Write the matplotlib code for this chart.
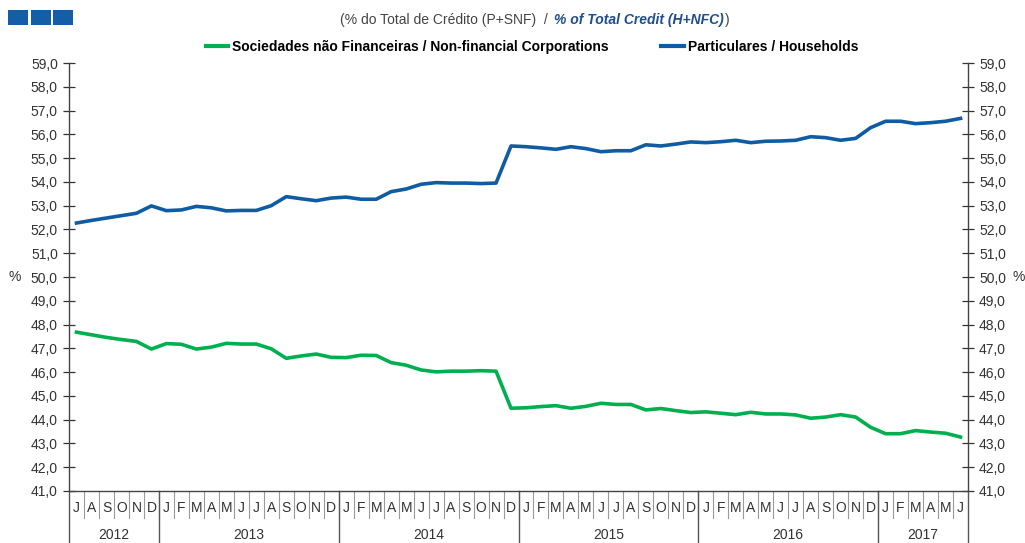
import numpy as np
import matplotlib
matplotlib.use("Agg")
import matplotlib.pyplot as plt
from matplotlib.patches import Rectangle

# ---------------- data ----------------
month_letters = ["J", "A", "S", "O", "N", "D"] + \
    ["J", "F", "M", "A", "M", "J", "J", "A", "S", "O", "N", "D"] * 4 + \
    ["J", "F", "M", "A", "M", "J"]
years = ["2012", "2013", "2014", "2015", "2016", "2017"]
months_per_year = [6, 12, 12, 12, 12, 6]

households = [
    52.27, 52.38, 52.48, 52.58, 52.68, 52.99,                       # 2012 J-D
    52.79, 52.82, 52.97, 52.91, 52.78, 52.80, 52.80, 53.00, 53.38, 53.29, 53.21, 53.32,  # 2013
    53.36, 53.27, 53.27, 53.59, 53.70, 53.90, 53.97, 53.95, 53.95, 53.93, 53.95, 55.51,  # 2014
    55.48, 55.43, 55.37, 55.48, 55.40, 55.27, 55.31, 55.31, 55.56, 55.51, 55.59, 55.68,  # 2015
    55.65, 55.69, 55.75, 55.65, 55.71, 55.72, 55.75, 55.90, 55.86, 55.75, 55.83, 56.28,  # 2016
    56.55, 56.55, 56.45, 56.49, 56.55, 56.67,                       # 2017
]
nfc = [
    47.68, 47.57, 47.46, 47.37, 47.29, 46.97,
    47.20, 47.17, 46.97, 47.05, 47.21, 47.18, 47.18, 46.98, 46.58, 46.68, 46.76, 46.62,
    46.61, 46.71, 46.70, 46.40, 46.29, 46.09, 46.01, 46.04, 46.04, 46.06, 46.04, 44.48,
    44.50, 44.55, 44.59, 44.48, 44.56, 44.69, 44.64, 44.64, 44.41, 44.47, 44.38, 44.30,
    44.33, 44.27, 44.21, 44.31, 44.24, 44.24, 44.20, 44.06, 44.11, 44.21, 44.11, 43.68,
    43.41, 43.41, 43.54, 43.48, 43.43, 43.27,
]
y_ticks = np.arange(41.0, 59.01, 1.0)

label_nfc = "Sociedades não Financeiras / Non-financial Corporations"
label_hh = "Particulares / Households"
title_pt = "(% do Total de Crédito (P+SNF)  / "
title_en = "% of Total Credit (H+NFC)"

GREEN = "#00B050"
BLUE = "#0F5CA3"

plt.rcParams["font.family"] = ["Liberation Sans", "DejaVu Sans"]

W, H = 1025, 543
fig = plt.figure(figsize=(W / 100, H / 100), dpi=100)
x0, x1, ytop, ybot = 69, 968, 63, 491
ax = fig.add_axes([x0 / W, 1 - ybot / H, (x1 - x0) / W, (ybot - ytop) / H])

x = np.arange(len(month_letters))
ax.plot(x, nfc, color=GREEN, lw=2.6, solid_joinstyle="round", label=label_nfc)
ax.plot(x, households, color=BLUE, lw=2.6, solid_joinstyle="round", label=label_hh)

ax.set_xlim(-0.5, len(month_letters) - 0.5)
ax.set_ylim(41, 59)
ax.set_yticks(y_ticks)
ax.set_yticklabels([f"{v:.1f}".replace(".", ",") for v in y_ticks])
ax.tick_params(axis="y", which="both", direction="inout", length=8, width=0.9,
               colors="#333333", labelcolor="#333333", labelsize=10,
               left=True, right=True, labelleft=True, labelright=True, pad=4)
ax.set_xticks([])
ax.spines["top"].set_visible(False)
for s in ["left", "right", "bottom"]:
    ax.spines[s].set_color("#444444")
    ax.spines[s].set_linewidth(1.0)

# month labels and separators
trans = ax.get_xaxis_transform()
axh = ybot - ytop
for i, m in enumerate(month_letters):
    ax.text(i, -17 / axh, m, transform=trans, ha="center", va="center",
            fontsize=10, color="#333333")
for i in range(len(month_letters) - 1):
    ax.plot([i + 0.5, i + 0.5], [0, -27 / axh], transform=trans, color="#9a9a9a",
            lw=0.8, clip_on=False)
# year labels and separators
start = 0
bounds = [-0.5]
for yr, n in zip(years, months_per_year):
    mid = start + (n - 1) / 2
    ax.text(mid, -44 / axh, yr, transform=trans, ha="center", va="center",
            fontsize=10, color="#333333")
    start += n
    bounds.append(start - 0.5)
for b in bounds:
    ax.plot([b, b], [0, -60 / axh], transform=trans, color="#555555", lw=1.0,
            clip_on=False)

# % labels
fig.text(15 / W, 1 - 277 / H, "%", ha="center", va="center", fontsize=10, color="#333333")
fig.text(1019 / W, 1 - 277 / H, "%", ha="center", va="center", fontsize=10, color="#333333")

# top-left blue squares
for xs in [8, 30.5, 53]:
    fig.patches.append(Rectangle((xs / W, 1 - 25 / H), 20 / W, 15 / H,
                                 transform=fig.transFigure, color="#135EA6", lw=0))

# title with mixed styles
split_x = 552
fig.text(split_x / W, 1 - 20 / H, title_pt, ha="right", va="center", fontsize=10,
         color="#444444")
t2 = fig.text((split_x + 2) / W, 1 - 20 / H, title_en, ha="left", va="center",
              fontsize=10, color="#1F4E8C", fontweight="bold", fontstyle="italic")
fig.canvas.draw()
bb = t2.get_window_extent()
fig.text(bb.x1 / W + 1 / W, 1 - 20 / H, ")", ha="left", va="center", fontsize=10,
         color="#444444")

# legend
leg = ax.legend(loc="center", bbox_to_anchor=(532 / W, 1 - 47 / H),
                bbox_transform=fig.transFigure, ncol=2, frameon=False,
                handlelength=1.6, handletextpad=0.3, columnspacing=3.8,
                prop={"weight": "bold", "size": 10})
for line in leg.get_lines():
    line.set_linewidth(3)

fig.savefig("out.png", dpi=100, facecolor="white")
